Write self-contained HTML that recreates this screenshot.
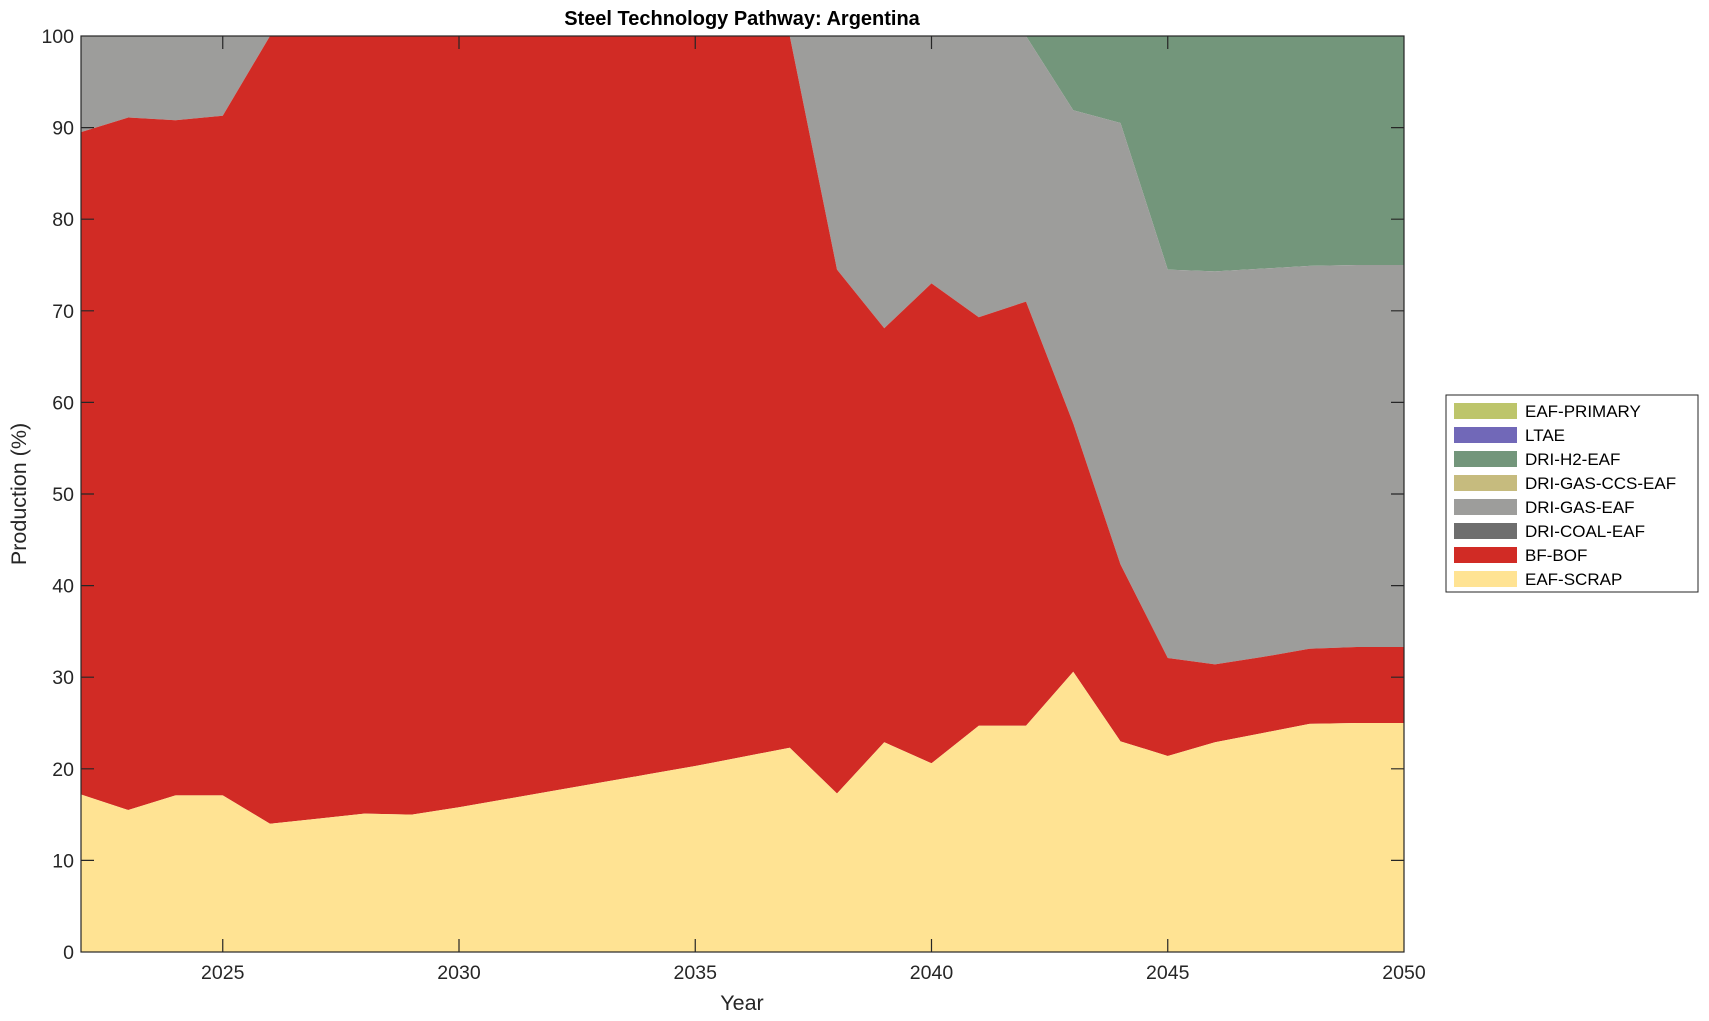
<!DOCTYPE html>
<html><head><meta charset="utf-8"><style>
html,body{margin:0;padding:0;background:#fff;}
svg{display:block;font-family:"Liberation Sans",Arial,sans-serif;}
</style></head><body>
<svg id="s" width="1709" height="1021" viewBox="0 0 1709 1021" xmlns="http://www.w3.org/2000/svg">
<rect width="1709" height="1021" fill="#fff"/>
<g id="areas"></g>
<g stroke="#262626" stroke-width="1.2" fill="none">
<rect x="81" y="36" width="1323" height="916"/>
<path d="M222.75 952v-13M459 952v-13M695.25 952v-13M931.5 952v-13M1167.75 952v-13M222.75 36v13M459 36v13M695.25 36v13M931.5 36v13M1167.75 36v13"/>
<path d="M81 860.4h13M81 768.8h13M81 677.2h13M81 585.6h13M81 494h13M81 402.4h13M81 310.8h13M81 219.2h13M81 127.6h13M1404 860.4h-13M1404 768.8h-13M1404 677.2h-13M1404 585.6h-13M1404 494h-13M1404 402.4h-13M1404 310.8h-13M1404 219.2h-13M1404 127.6h-13"/>
</g>
<g font-size="19.5" fill="#262626" text-anchor="middle">
<text x="222.75" y="979">2025</text><text x="459" y="979">2030</text><text x="695.25" y="979">2035</text><text x="931.5" y="979">2040</text><text x="1167.75" y="979">2045</text><text x="1404" y="979">2050</text>
</g>
<g font-size="19.5" fill="#262626" text-anchor="end">
<text x="74" y="959">0</text><text x="74" y="867.4">10</text><text x="74" y="775.8">20</text><text x="74" y="684.2">30</text><text x="74" y="592.6">40</text><text x="74" y="501">50</text><text x="74" y="409.4">60</text><text x="74" y="317.8">70</text><text x="74" y="226.2">80</text><text x="74" y="134.6">90</text><text x="74" y="43">100</text>
</g>
<text x="742" y="25" font-size="20" font-weight="bold" text-anchor="middle" fill="#000">Steel Technology Pathway: Argentina</text>
<text x="742" y="1010" font-size="21.5" text-anchor="middle" fill="#262626">Year</text>
<text transform="translate(26,494) rotate(-90)" font-size="21.5" text-anchor="middle" fill="#262626">Production (%)</text>
<g>
<rect x="1446" y="395" width="252" height="197" fill="#fff" stroke="#262626" stroke-width="1"/>
<rect x="1454" y="403" width="63" height="16" fill="#bdc56b"/>
<rect x="1454" y="427" width="63" height="16" fill="#7168b8"/>
<rect x="1454" y="451" width="63" height="16" fill="#73967b"/>
<rect x="1454" y="475" width="63" height="16" fill="#c6bb7e"/>
<rect x="1454" y="499" width="63" height="16" fill="#9d9d9b"/>
<rect x="1454" y="523" width="63" height="16" fill="#6e6e6e"/>
<rect x="1454" y="547" width="63" height="16" fill="#d12b25"/>
<rect x="1454" y="571" width="63" height="16" fill="#ffe393"/>
<g font-size="17" fill="#000">
<text x="1525" y="417">EAF-PRIMARY</text>
<text x="1525" y="441">LTAE</text>
<text x="1525" y="465">DRI-H2-EAF</text>
<text x="1525" y="489">DRI-GAS-CCS-EAF</text>
<text x="1525" y="513">DRI-GAS-EAF</text>
<text x="1525" y="537">DRI-COAL-EAF</text>
<text x="1525" y="561">BF-BOF</text>
<text x="1525" y="585">EAF-SCRAP</text>
</g>
</g>
</svg>
<script>
(function(){
var scrap=[17.2,15.5,17.1,17.1,14,14.55,15.1,15,15.8,16.7,17.6,18.5,19.4,20.3,21.3,22.3,17.3,22.9,20.6,24.7,24.7,30.6,23,21.4,22.9,23.9,24.9,25,25];
var bof=[89.5,91.1,90.8,91.3,100,100,100,100,100,100,100,100,100,100,100,100,74.5,68.1,73,69.3,71,57.7,42.3,32.1,31.4,32.2,33.1,33.3,33.3];
var gas=[100,100,100,100,100,100,100,100,100,100,100,100,100,100,100,100,100,100,100,100,100,91.9,90.5,74.5,74.3,74.6,74.9,75,75];
var top=gas.map(function(){return 100;});
function X(i){return 81+i*47.25;}function Y(v){return 952-9.16*v;}
function poly(up,lo,c){var p=[];for(var i=0;i<up.length;i++)p.push(X(i)+","+Y(up[i]));for(var i=lo.length-1;i>=0;i--)p.push(X(i)+","+Y(lo[i]));return '<polygon points="'+p.join(" ")+'" fill="'+c+'"/>';}
var zero=gas.map(function(){return 0;});
var h=poly(top,gas,"#73967b")+poly(gas,bof,"#9d9d9b")+poly(bof,scrap,"#d12b25")+poly(scrap,zero,"#ffe393");
document.getElementById("areas").innerHTML=h;
})();
</script>
</body></html>
